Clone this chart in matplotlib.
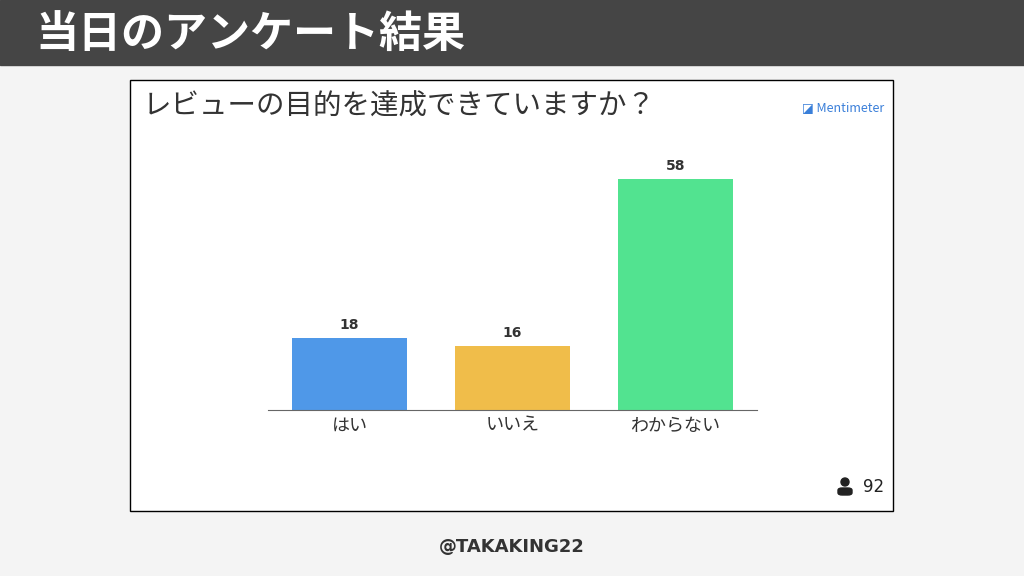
import matplotlib.pyplot as plt
from matplotlib.patches import Rectangle, Ellipse, FancyBboxPatch

plt.rcParams['font.family'] = ['Noto Sans CJK JP', 'DejaVu Sans']

slide_title = '当日のアンケート結果'
question = 'レビューの目的を達成できていますか？'
categories = ['はい', 'いいえ', 'わからない']
votes = [18, 16, 58]
colors = ['#4f98e8', '#f0bd4a', '#52e390']
participants = 92
handle = '@TAKAKING22'

W, H = 1024, 576
fig = plt.figure(figsize=(W / 100, H / 100), dpi=100)
fig.patch.set_facecolor('#f4f4f4')

# header bar and chart frame
fig.patches.append(Rectangle((0, 1 - 65 / H), 1, 65 / H, transform=fig.transFigure,
                             color='#454545', zorder=0))
fig.patches.append(Rectangle((130 / W, 1 - 511 / H), 763 / W, 431 / H, transform=fig.transFigure,
                             facecolor='white', edgecolor='black', lw=1, zorder=0))
fig.text(35 / W, 1 - 35 / H, slide_title, color='white', fontsize=31, fontweight='bold', va='center')
fig.text(143 / W, 1 - 107 / H, question, color='#333333', fontsize=20.5, va='center')
fig.text(884 / W, 1 - 108 / H, '◪ Mentimeter', color='#3a7fd9', fontsize=9,
         va='center', ha='right')
# person icon
fig.patches.append(Ellipse((845 / W, 1 - 482 / H), 8 / W, 8 / H, transform=fig.transFigure,
                           color='#222222', zorder=3))
fig.patches.append(FancyBboxPatch((838 / W, 1 - 495 / H), 14 / W, 7 / H, transform=fig.transFigure,
                                  boxstyle='round,pad=0,rounding_size=0.004',
                                  color='#222222', zorder=3))
fig.text(884 / W, 1 - 487 / H, f'{participants}', color='#222222', fontsize=12,
         va='center', ha='right', family=['DejaVu Sans'])
fig.text(512 / W, 1 - 547 / H, handle, color='#333333', fontsize=13, fontweight='bold',
         va='center', ha='center', family=['DejaVu Sans'])

ax = fig.add_axes([268 / W, (H - 410) / H, 489 / W, 260 / H], zorder=5)
x = range(len(categories))
bars = ax.bar(x, votes, width=0.7, color=colors)
for b, v in zip(bars, votes):
    ax.text(b.get_x() + b.get_width() / 2, v + 1.5, str(v), ha='center', va='bottom',
            fontsize=10, fontweight='bold', color='#333333', family=['DejaVu Sans'])
ax.set_xlim(-0.5, 2.5)
ax.set_ylim(0, 65.3)
ax.set_xticks(list(x))
ax.set_xticklabels(categories, fontsize=13, color='#333333')
ax.tick_params(axis='x', length=0, pad=5)
ax.set_yticks([])
for s in ['top', 'right', 'left']:
    ax.spines[s].set_visible(False)
ax.spines['bottom'].set_color('#666666')
ax.patch.set_alpha(0)

fig.savefig('out.png', dpi=100)
